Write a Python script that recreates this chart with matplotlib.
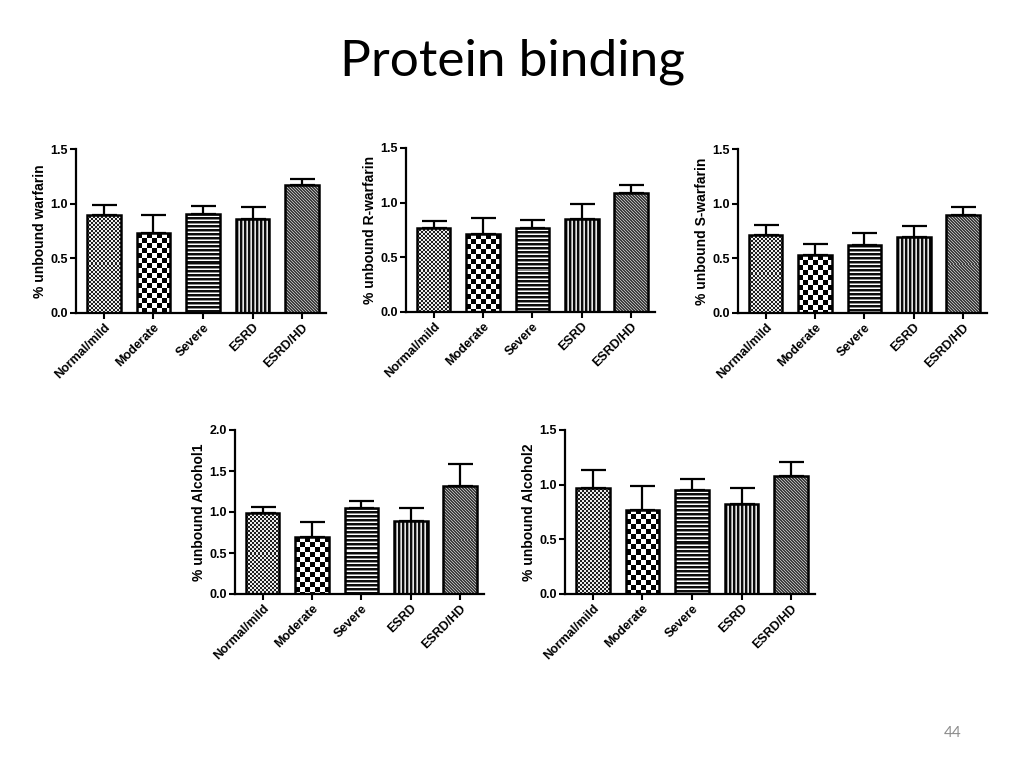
import numpy as np
import matplotlib
matplotlib.use("Agg")
import matplotlib.pyplot as plt

plt.rcParams['font.family'] = ['Liberation Sans', 'DejaVu Sans']

groups = ["Normal/mild", "Moderate", "Severe", "ESRD", "ESRD/HD"]

# medias y error superior (SEM)
warfarin = [0.90, 0.73, 0.91, 0.86, 1.17]
warfarin_err = [0.09, 0.17, 0.07, 0.11, 0.055]
r_warfarin = [0.77, 0.71, 0.77, 0.85, 1.085]
r_warfarin_err = [0.06, 0.15, 0.07, 0.14, 0.075]
s_warfarin = [0.715, 0.53, 0.62, 0.695, 0.90]
s_warfarin_err = [0.09, 0.105, 0.11, 0.10, 0.07]
alcohol1 = [0.99, 0.69, 1.05, 0.89, 1.32]
alcohol1_err = [0.075, 0.19, 0.09, 0.16, 0.26]
alcohol2 = [0.965, 0.77, 0.955, 0.825, 1.075]
alcohol2_err = [0.17, 0.22, 0.095, 0.14, 0.13]

panels = [
    ("% unbound warfarin", warfarin, warfarin_err, 1.5),
    ("% unbound R-warfarin", r_warfarin, r_warfarin_err, 1.5),
    ("% unbound S-warfarin", s_warfarin, s_warfarin_err, 1.5),
    ("% unbound Alcohol1", alcohol1, alcohol1_err, 2.0),
    ("% unbound Alcohol2", alcohol2, alcohol2_err, 1.5),
]

# posiciones de los ejes en pixeles (izq, arriba, ancho, alto)
boxes = [(76, 149, 250, 164), (406, 148, 249, 164), (738, 149, 249, 164),
         (235, 430, 249, 164), (565, 430, 250, 164)]

W, H = 1024, 768
fig = plt.figure(figsize=(W / 100, H / 100), dpi=100)


def pattern(kind, h, w):
    i, j = np.mgrid[0:h, 0:w]
    if kind == "fine":
        return np.where(((i // 2) + (j // 2)) % 2 == 0, 0.12, 0.92)
    if kind == "checker":
        return np.where(((i // 5) + (j // 5)) % 2 == 0, 0.0, 1.0)
    if kind == "hlines":
        return np.array([0.05, 0.05, 0.55, 1.0])[i % 4]
    if kind == "vlines":
        return np.array([0.05, 0.05, 0.6, 0.9])[j % 4]
    return np.where((i - j) % 3 == 0, 0.7, 0.25)


kinds = ["fine", "checker", "hlines", "vlines", "diag"]

for (label, vals, errs, ymax), (l, t, w, h) in zip(panels, boxes):
    ax = fig.add_axes([l / W, 1 - (t + h) / H, w / W, h / H])
    x = np.arange(len(groups))
    ax.set_xlim(-0.56, 4.48)
    ax.set_ylim(0, ymax)

    ax.errorbar(x, vals, yerr=[np.zeros(len(vals)), errs], fmt='none',
                ecolor='black', elinewidth=1.6, capsize=9, capthick=1.6, zorder=1)
    bars = ax.bar(x, vals, width=0.68, facecolor='none', edgecolor='black',
                  linewidth=1.8, zorder=3)
    ax.bar(x, vals, width=0.68, color='white', linewidth=0, zorder=1.5)

    for bar, kind in zip(bars, kinds):
        x0, y0 = bar.get_x(), 0
        x1, y1 = bar.get_x() + bar.get_width(), bar.get_height()
        p0 = ax.transData.transform((x0, y0))
        p1 = ax.transData.transform((x1, y1))
        pw = max(int(round(p1[0] - p0[0])), 1)
        ph = max(int(round(p1[1] - p0[1])), 1)
        img = ax.imshow(pattern(kind, ph, pw), cmap='gray', vmin=0, vmax=1,
                        extent=(x0, x1, y0, y1), aspect='auto',
                        interpolation='nearest', zorder=2)
        img.set_clip_path(bar)

    ax.set_xlim(-0.56, 4.48)
    ax.set_ylim(0, ymax)
    ax.set_yticks(np.arange(0, ymax + 0.01, 0.5))
    ax.set_yticklabels([f"{v:.1f}" for v in np.arange(0, ymax + 0.01, 0.5)],
                       fontsize=9, fontweight='bold')
    ax.set_xticks(x)
    ax.set_xticklabels(groups, rotation=45, ha='right', rotation_mode='anchor',
                       fontsize=9, fontweight='bold')
    ax.set_ylabel(label, fontsize=10, fontweight='bold', labelpad=2)
    for s in ['top', 'right']:
        ax.spines[s].set_visible(False)
    for s in ['left', 'bottom']:
        ax.spines[s].set_linewidth(1.6)
    ax.tick_params(direction='out', length=4, width=1.5, pad=2)

fig.text(0.5, 1 - 62 / H, "Protein binding", ha='center', va='center',
         fontsize=37, family=['Lato', 'DejaVu Sans'])
fig.text(953 / W, 1 - 733 / H, "44", ha='center', va='center',
         fontsize=11, color='#8c8c8c', family=['Lato', 'DejaVu Sans'])

fig.savefig("out.png", dpi=100)
